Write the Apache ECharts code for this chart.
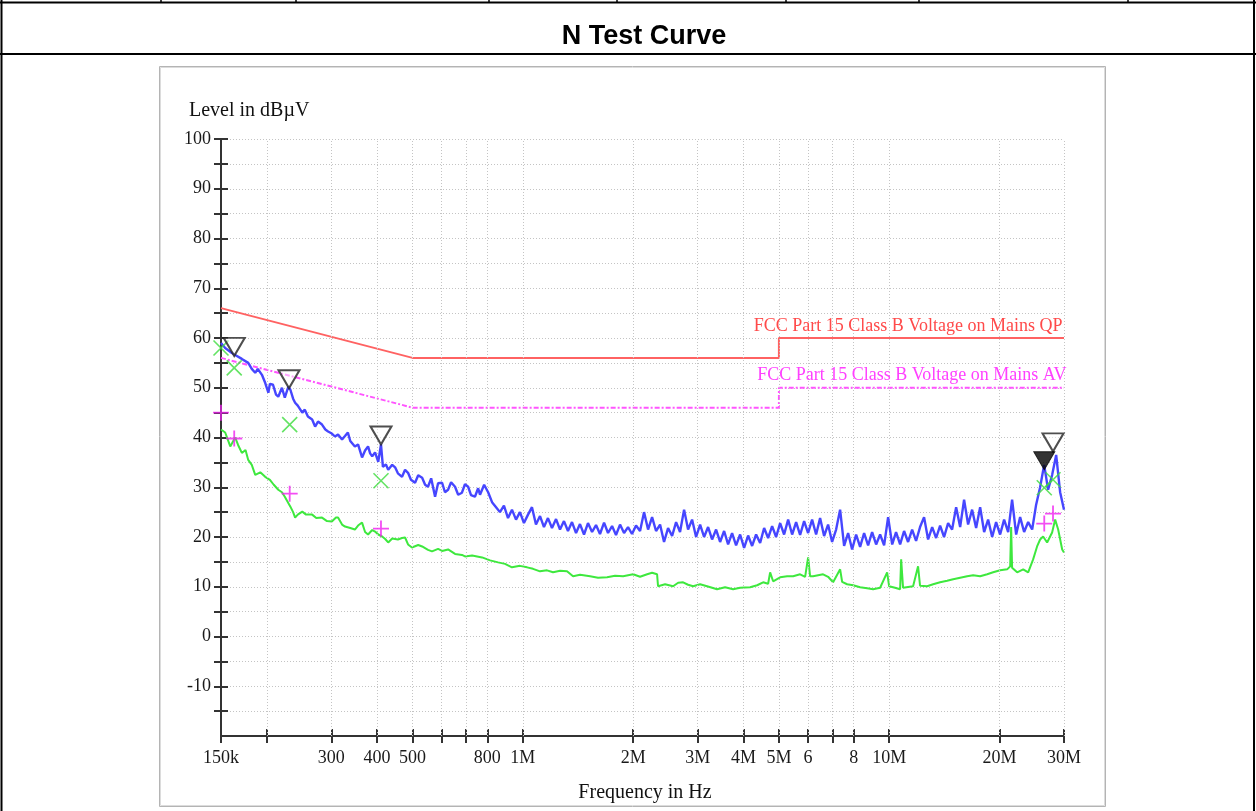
<!DOCTYPE html>
<html><head><meta charset="utf-8">
<script src="https://cdn.jsdelivr.net/npm/echarts@6/dist/echarts.min.js"></script>
<style>html,body{margin:0;padding:0;background:#fff}#c{width:1256px;height:811px}</style>
</head><body><div id="c"></div>
<script>
// ---------- axis ticks ----------
const tickFreqs = [0.15,0.2,0.3,0.4,0.5,0.6,0.7,0.8,1,2,3,4,5,6,7,8,10,20,30];
const tickLabels = ['150k','','300','400','500','','','800','1M','2M','3M','4M','5M','6','','8','10M','20M','30M'];
const levelMin = -20, levelMax = 100, levelStep = 5;

// ---------- limit lines ----------
const limFreq = [0.15, 0.5, 5, 5, 30];
const qpLimit = [66, 56, 56, 60, 60];
const avLimit = [56, 46, 46, 50, 50];
const qpLimitName = 'FCC Part 15 Class B Voltage on Mains QP';
const avLimitName = 'FCC Part 15 Class B Voltage on Mains AV';

// ---------- peak scan (blue), MHz / dBµV ----------
const pkFreq = [0.150,0.154,0.159,0.164,0.171,0.178,0.182,0.186,0.189,0.194,0.198,0.202,0.204,0.208,0.212,0.215,0.220,0.224,0.229,0.232,
0.236,0.239,0.243,0.250,0.254,0.259,0.266,0.271,0.276,0.283,0.289,0.294,0.301,0.307,0.313,0.321,0.327,0.333,0.338,0.342,
0.348,0.355,0.364,0.371,0.378,0.383,0.388,0.395,0.403,0.410,0.415,0.423,0.429,0.440,0.448,0.456,0.468,0.477,0.486,0.495,
0.508,0.518,0.531,0.541,0.551,0.562,0.576,0.587,0.602,0.613,0.625,0.637,0.653,0.666,0.682,0.695,0.709,0.722,0.740,0.755,
0.764,0.784,0.804,0.824,0.845,0.866,0.888,0.911,0.934,0.958,0.982,1.007,1.033,1.059,1.086,1.114,1.142,1.171,1.201,1.232,
1.263,1.295,1.328,1.362,1.397,1.432,1.469,1.506,1.545,1.584,1.624,1.666,1.708,1.752,1.796,1.842,1.889,1.937,1.986,2.037,
2.089,2.142,2.197,2.253,2.310,2.369,2.429,2.491,2.555,2.620,2.686,2.755,2.825,2.897,2.971,3.047,3.124,3.204,3.285,3.369,
3.455,3.543,3.633,3.725,3.820,3.918,4.017,4.120,4.225,4.332,4.443,4.556,4.672,4.791,4.913,5.038,5.166,5.298,5.433,5.571,
5.712,5.858,6.007,6.160,6.317,6.477,6.642,6.811,6.985,7.163,7.345,7.532,7.724,7.921,8.123,8.329,8.541,8.759,8.982,9.211,
9.445,9.686,9.932,10.19,10.44,10.71,10.98,11.26,11.55,11.84,12.14,12.45,12.77,13.10,13.43,13.77,14.12,14.48,14.85,15.23,
15.62,16.01,16.42,16.84,17.27,17.71,18.16,18.62,19.10,19.58,20.08,20.59,21.12,21.65,22.21,22.77,23.35,23.95,24.56,25.18,
25.82,26.48,27.15,27.85,28.56,29.28,30.0];
const pkLevel = [59.0,58.0,57.2,56.6,55.8,55.0,53.8,53.0,53.8,52.6,51.0,49.0,50.8,50.6,48.6,48.2,50.0,48.0,50.2,49.6,
47.8,47.0,46.4,45.0,45.6,44.2,43.6,42.2,43.2,42.6,41.6,41.2,40.8,40.2,40.6,39.6,40.3,41.0,39.3,39.6,
38.2,38.6,36.0,37.4,38.2,36.8,36.2,37.0,35.1,38.6,34.1,34.6,33.5,34.5,34.0,32.8,32.1,33.5,32.9,31.5,
30.9,32.4,31.9,30.5,30.1,31.8,28.1,30.8,30.9,29.0,29.5,31.0,30.1,28.5,28.9,30.6,30.1,28.4,28.1,29.8,
28.5,30.5,29.0,27.0,26.0,25.0,26.3,23.8,25.5,23.5,25.0,22.8,24.5,26.0,22.5,24.2,22.0,23.8,21.8,23.6,
21.5,23.2,21.2,23.0,20.8,22.6,20.5,22.8,21.0,22.4,20.6,22.9,20.8,22.2,20.4,22.5,20.8,22.0,20.6,22.3,
21.2,25.0,21.5,24.0,21.2,22.5,19.0,21.8,20.2,23.0,21.0,25.5,21.5,23.5,20.0,22.5,20.0,22.0,19.5,21.5,
19.0,21.2,18.5,20.8,18.3,20.5,17.8,20.3,18.2,20.5,18.8,21.8,19.8,22.2,20.0,22.8,20.5,23.5,20.5,23.0,
20.4,23.2,20.8,23.5,20.5,23.8,20.2,22.5,19.0,21.5,25.5,18.2,20.8,17.5,20.5,18.0,20.8,18.3,21.0,18.5,
20.5,18.3,24.0,18.5,21.0,18.5,21.2,19.0,21.5,19.2,22.0,24.0,19.5,22.0,19.8,22.3,20.0,22.8,21.5,26.0,
22.0,27.5,22.5,25.5,21.8,26.0,21.0,23.5,20.0,23.0,20.5,23.5,21.0,27.5,20.5,24.0,21.0,23.0,21.5,26.5,
30.0,34.5,29.5,32.5,36.5,29.0,25.5];

// ---------- average scan (green), MHz / dBµV ----------
const avFreq = [0.150,0.154,0.159,0.164,0.167,0.171,0.175,0.178,0.182,0.186,0.192,0.198,0.204,0.209,0.215,0.220,0.224,0.232,0.236,0.239,
0.243,0.250,0.256,0.266,0.273,0.283,0.292,0.301,0.309,0.313,0.321,0.327,0.338,0.348,0.355,0.364,0.371,0.378,0.388,0.395,
0.403,0.413,0.421,0.429,0.440,0.456,0.468,0.477,0.486,0.498,0.518,0.531,0.551,0.565,0.587,0.602,0.625,0.653,0.682,0.695,
0.727,0.774,0.814,0.856,0.894,0.934,0.982,1.027,1.066,1.114,1.164,1.209,1.264,1.320,1.371,1.433,1.526,1.604,1.698,1.785,
1.878,2.000,2.089,2.184,2.253,2.325,2.339,2.445,2.571,2.654,2.738,2.825,2.916,3.047,3.183,3.285,3.390,3.565,3.749,3.918,
4.172,4.360,4.527,4.672,4.731,4.821,5.038,5.265,5.468,5.712,5.895,6.008,6.083,6.198,6.601,6.811,7.029,7.346,7.439,7.676,
7.971,8.329,8.704,9.039,9.445,9.871,9.996,10.37,10.71,10.78,10.91,11.62,11.99,12.14,12.69,13.18,13.77,14.39,14.95,15.62,
16.32,16.95,17.71,18.51,19.22,20.08,20.99,21.39,21.52,21.65,22.35,23.21,23.95,24.71,25.33,25.82,26.31,26.98,27.84,28.38,
28.92,29.66,30.0];
const avLevel = [41.6,41.0,38.2,40.0,38.5,36.9,37.5,35.5,34.5,32.5,33.0,32.1,31.5,30.5,29.5,29.0,28.1,26.1,25.0,23.9,
24.5,25.1,24.5,24.5,23.8,23.9,23.2,23.1,23.9,23.9,22.5,22.1,21.8,21.5,22.3,22.9,21.0,20.5,21.4,21.1,
20.5,20.1,19.6,18.9,19.7,19.5,19.8,19.9,18.5,17.9,18.4,18.1,17.4,17.1,17.6,17.2,17.5,16.6,16.4,16.1,
16.3,15.9,15.3,14.9,14.6,13.9,14.2,13.9,13.6,13.1,13.3,12.9,13.2,13.1,12.1,12.4,12.1,11.8,11.9,12.2,
12.1,12.5,12.0,12.5,12.8,12.5,10.1,10.5,10.1,10.8,10.9,10.4,10.1,10.5,10.1,9.8,9.5,9.9,9.5,9.8,
9.9,10.3,10.9,10.6,12.9,11.1,11.9,12.1,12.1,12.5,12.0,15.9,12.1,12.1,12.5,12.0,10.9,13.5,11.0,10.5,
10.3,9.9,9.7,9.5,9.8,12.9,10.1,9.8,9.5,15.5,9.8,10.1,14.1,10.2,10.1,10.5,10.9,11.2,11.5,11.8,
12.1,12.3,12.1,12.5,12.9,13.3,13.5,14.1,22.0,13.8,12.9,13.5,12.9,15.5,18.1,19.5,20.1,18.9,20.9,23.5,
21.5,17.5,16.9];

// ---------- markers ----------
const peakOpenFreq = [0.163, 0.230, 0.410, 28.0];
const peakOpenLevel = [56.4, 49.9, 38.6, 37.2];
const peakFilledFreq = [26.5];
const peakFilledLevel = [33.5];
const qpResFreq = [0.150, 0.163, 0.231, 0.410, 26.5, 28.0];
const qpResLevel = [58.0, 54.0, 42.6, 31.3, 29.9, 31.5];
const avResFreq = [0.150, 0.163, 0.231, 0.410, 26.5, 28.0];
const avResLevel = [45.0, 39.8, 28.7, 21.7, 22.7, 24.7];

// ---------- build ----------
const zip = (a, b) => a.map((v, i) => [v, b[i]]);
const serif = 'Liberation Serif';
const labelFreqs = tickFreqs.filter((_, i) => tickLabels[i] !== '');
const fmtFreq = v => { const i = tickFreqs.findIndex(t => Math.abs(t - v) / t < 1e-6); return i >= 0 ? tickLabels[i] : ''; };

const baseX = {
  type: 'log', logBase: 10, min: tickFreqs[0], max: tickFreqs[tickFreqs.length - 1],
  splitLine: { show: false }, minorTick: { show: false }
};
const baseY = { type: 'value', min: levelMin, max: levelMax, interval: levelStep };

const chart = echarts.init(document.getElementById('c'), null, { renderer: 'canvas' });
chart.setOption({
  animation: false,
  backgroundColor: '#fff',
  grid: { left: 221, top: 139, right: 192, bottom: 75, containLabel: false },
  xAxis: [
    Object.assign({}, baseX, {
      axisLine: { show: true, onZero: false, lineStyle: { color: '#333', width: 2 } },
      axisTick: { show: true, inside: false, length: 7, customValues: tickFreqs, lineStyle: { color: '#333', width: 2 } },
      axisLabel: { show: true, customValues: labelFreqs, formatter: fmtFreq, margin: 13,
        fontFamily: serif, fontSize: 18, color: '#1a1a1a' }
    }),
    Object.assign({}, baseX, {
      position: 'bottom', offset: 0,
      axisLine: { show: false, onZero: false },
      axisTick: { show: true, inside: true, length: 7, customValues: tickFreqs, lineStyle: { color: '#333', width: 2 } },
      axisLabel: { show: false }
    })
  ],
  yAxis: [
    Object.assign({}, baseY, {
      axisLine: { show: true, onZero: false, lineStyle: { color: '#333', width: 2 } },
      axisTick: { show: true, inside: false, length: 7, lineStyle: { color: '#333', width: 2 } },
      axisLabel: { showMinLabel: false, margin: 10, fontFamily: serif, fontSize: 18, color: '#1a1a1a',
        formatter: v => (v % 10 === 0 && v > levelMin) ? String(v) : '' },
      splitLine: { show: true, lineStyle: { color: '#c4c4c4', width: 1, type: [1, 2] } }
    }),
    Object.assign({}, baseY, {
      position: 'left', offset: 0,
      axisLine: { show: false, onZero: false },
      axisTick: { show: true, inside: true, length: 7, lineStyle: { color: '#333', width: 2 } },
      axisLabel: { show: false },
      splitLine: { show: false }
    })
  ],
  series: [
    { // vertical grid lines at tick frequencies
      type: 'line', data: [], silent: true, z: 1,
      markLine: { silent: true, symbol: 'none', animation: false, label: { show: false },
        lineStyle: { color: '#c4c4c4', width: 1, type: [1, 2] },
        data: tickFreqs.slice(1).map(f => ({ xAxis: f })) }
    },
    { name: 'QP limit', type: 'line', data: zip(limFreq, qpLimit), showSymbol: false, z: 3,
      lineStyle: { color: '#ff6262', width: 2 },
      markPoint: { symbol: 'circle', symbolSize: 1, itemStyle: { color: 'rgba(0,0,0,0)' },
        label: { show: true, position: 'left', distance: 1, offset: [0, -12], formatter: qpLimitName,
          fontFamily: serif, fontSize: 18, color: '#ff4a4a' },
        data: [{ coord: [limFreq[limFreq.length - 1], qpLimit[qpLimit.length - 1]] }] } },
    { name: 'AV limit', type: 'line', data: zip(limFreq, avLimit), showSymbol: false, z: 3,
      lineStyle: { color: '#ff55ff', width: 2, type: [5, 2, 2, 2] },
      markPoint: { symbol: 'circle', symbolSize: 1, itemStyle: { color: 'rgba(0,0,0,0)' },
        label: { show: true, position: 'left', distance: -3, offset: [0, -12], formatter: avLimitName,
          fontFamily: serif, fontSize: 18, color: '#ff40ff' },
        data: [{ coord: [limFreq[limFreq.length - 1], avLimit[avLimit.length - 1]] }] } },
    { name: 'Average', type: 'line', data: zip(avFreq, avLevel), showSymbol: false, z: 4,
      lineStyle: { color: '#3ee83e', width: 2 } },
    { name: 'Peak', type: 'line', data: zip(pkFreq, pkLevel), showSymbol: false, z: 5,
      lineStyle: { color: '#4646ff', width: 2.4 } },
    { name: 'QP result', type: 'scatter', data: zip(qpResFreq, qpResLevel), z: 8,
      symbol: 'path://M0,0L10,10M10,0L0,10', symbolSize: 15,
      itemStyle: { color: 'rgba(0,0,0,0)', borderColor: '#3ddc3d', borderWidth: 1.6 } },
    { name: 'AV result', type: 'scatter', data: zip(avResFreq, avResLevel), z: 8,
      symbol: 'path://M5,0L5,10M0,5L10,5', symbolSize: 16,
      itemStyle: { color: 'rgba(0,0,0,0)', borderColor: '#f020f0', borderWidth: 1.8 } },
    { name: 'Peaks', type: 'scatter', data: zip(peakOpenFreq, peakOpenLevel), z: 9,
      symbol: 'path://M0,0L20,0L10,18Z', symbolSize: [21, 18], symbolOffset: [0, '-50%'],
      itemStyle: { color: 'rgba(255,255,255,0.6)', borderColor: '#222', borderWidth: 2 } },
    { name: 'Peak max', type: 'scatter', data: zip(peakFilledFreq, peakFilledLevel), z: 9,
      symbol: 'path://M0,0L20,0L10,18Z', symbolSize: [21, 18], symbolOffset: [0, '-50%'],
      itemStyle: { color: '#000', borderColor: '#000', borderWidth: 1 } }
  ],
  graphic: [
    { type: 'line', shape: { x1: 1.5, y1: 0, x2: 1.5, y2: 811 }, style: { stroke: '#000', lineWidth: 2 } },
    { type: 'line', shape: { x1: 1254, y1: 0, x2: 1254, y2: 811 }, style: { stroke: '#000', lineWidth: 2 } },
    { type: 'line', shape: { x1: 0, y1: 2.5, x2: 1256, y2: 2.5 }, style: { stroke: '#000', lineWidth: 2 } },
    { type: 'line', shape: { x1: 0, y1: 54, x2: 1256, y2: 54 }, style: { stroke: '#000', lineWidth: 2 } },
    ...[161, 296, 489, 617, 786, 919, 1128].map(x => ({ type: 'line', shape: { x1: x, y1: 0, x2: x, y2: 3 }, style: { stroke: '#000', lineWidth: 1.5 } })),
    { type: 'rect', shape: { x: 159.5, y: 66.5, width: 946, height: 740 }, style: { fill: 'none', stroke: '#b4b4b4', lineWidth: 1 }, z: -1 },
    { type: 'rect', shape: { x: 160.5, y: 67.5, width: 944, height: 738 }, style: { fill: 'none', stroke: '#dcdcdc', lineWidth: 1 }, z: -1 },
    { type: 'text', x: 644, y: 37, style: { text: 'N Test Curve', font: 'bold 27px "Liberation Sans", Arial, sans-serif', fill: '#000', textAlign: 'center', textVerticalAlign: 'middle' } },
    { type: 'text', x: 189, y: 111, style: { text: 'Level in dBµV', font: '20px "Liberation Serif", serif', fill: '#111', textAlign: 'left', textVerticalAlign: 'middle' } },
    { type: 'text', x: 645, y: 793, style: { text: 'Frequency in Hz', font: '20px "Liberation Serif", serif', fill: '#111', textAlign: 'center', textVerticalAlign: 'middle' } }
  ]
});
</script>
</body></html>
